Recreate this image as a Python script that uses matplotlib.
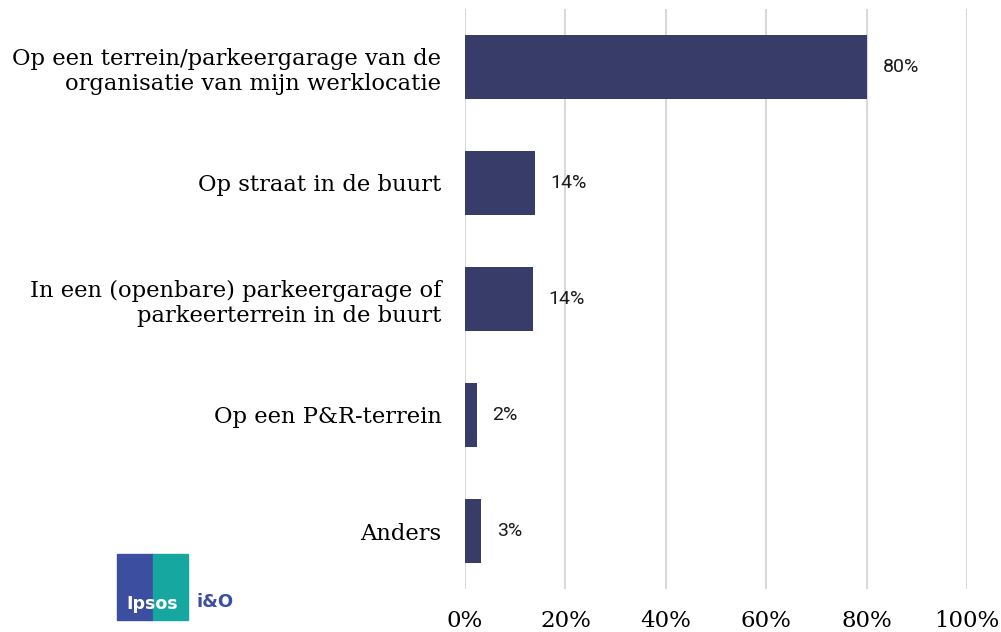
import matplotlib.pyplot as plt
from matplotlib.patches import Rectangle

# data
categories = [
    "Op een terrein/parkeergarage van de\norganisatie van mijn werklocatie",
    "Op straat in de buurt",
    "In een (openbare) parkeergarage of\nparkeerterrein in de buurt",
    "Op een P&R-terrein",
    "Anders",
]
values = [80.0, 13.9, 13.5, 2.3, 3.2]
value_labels = ["80%", "14%", "14%", "2%", "3%"]
ticks = [0, 20, 40, 60, 80, 100]
tick_labels = ["0%", "20%", "40%", "60%", "80%", "100%"]

bar_color = "#383c68"

fig = plt.figure(figsize=(10.01, 6.32), dpi=100)
ax = fig.add_axes([465 / 1001, 1 - 589 / 632, 502 / 1001, 580 / 632])

y = list(range(len(categories)))
ax.barh(y, values, height=0.55, color=bar_color, zorder=3)
ax.set_ylim(len(categories) - 0.5, -0.5)
ax.set_xlim(0, 100)

ax.set_xticks(ticks)
ax.set_xticklabels(tick_labels, family="DejaVu Serif", fontsize=16.5)
ax.tick_params(axis="x", length=0, pad=15)
ax.set_yticks(y)
ax.set_yticklabels(categories, family="DejaVu Serif", fontsize=16.3, linespacing=1.2)
ax.tick_params(axis="y", length=0, pad=17)

ax.grid(axis="x", color="#d9d9d9", linewidth=1.5, zorder=0)
for s in ax.spines.values():
    s.set_visible(False)

# waardes naast de balken
for yi, v, lab in zip(y, values, value_labels):
    ax.annotate(lab, (v, yi), xytext=(11.5, 0), textcoords="offset points",
                va="center", ha="left", fontsize=14, family="Roboto", color="#1a1a1a")

# logo (benadering)
fig.patches.append(Rectangle((117 / 1001, 1 - 620 / 632), 36 / 1001, 66 / 632,
                             transform=fig.transFigure, color="#3b4ea0", zorder=1))
fig.patches.append(Rectangle((153 / 1001, 1 - 620 / 632), 35 / 1001, 66 / 632,
                             transform=fig.transFigure, color="#16a8a0", zorder=1))
fig.text(152 / 1001, 1 - 604 / 632, "Ipsos", color="white", fontsize=12.5,
         fontweight="bold", ha="center", va="center", family="DejaVu Sans")
fig.text(196 / 1001, 1 - 602 / 632, "i&O", color="#3b4ea0", fontsize=13,
         fontweight="bold", ha="left", va="center", family="DejaVu Sans")

fig.savefig("out.png", dpi=100)
